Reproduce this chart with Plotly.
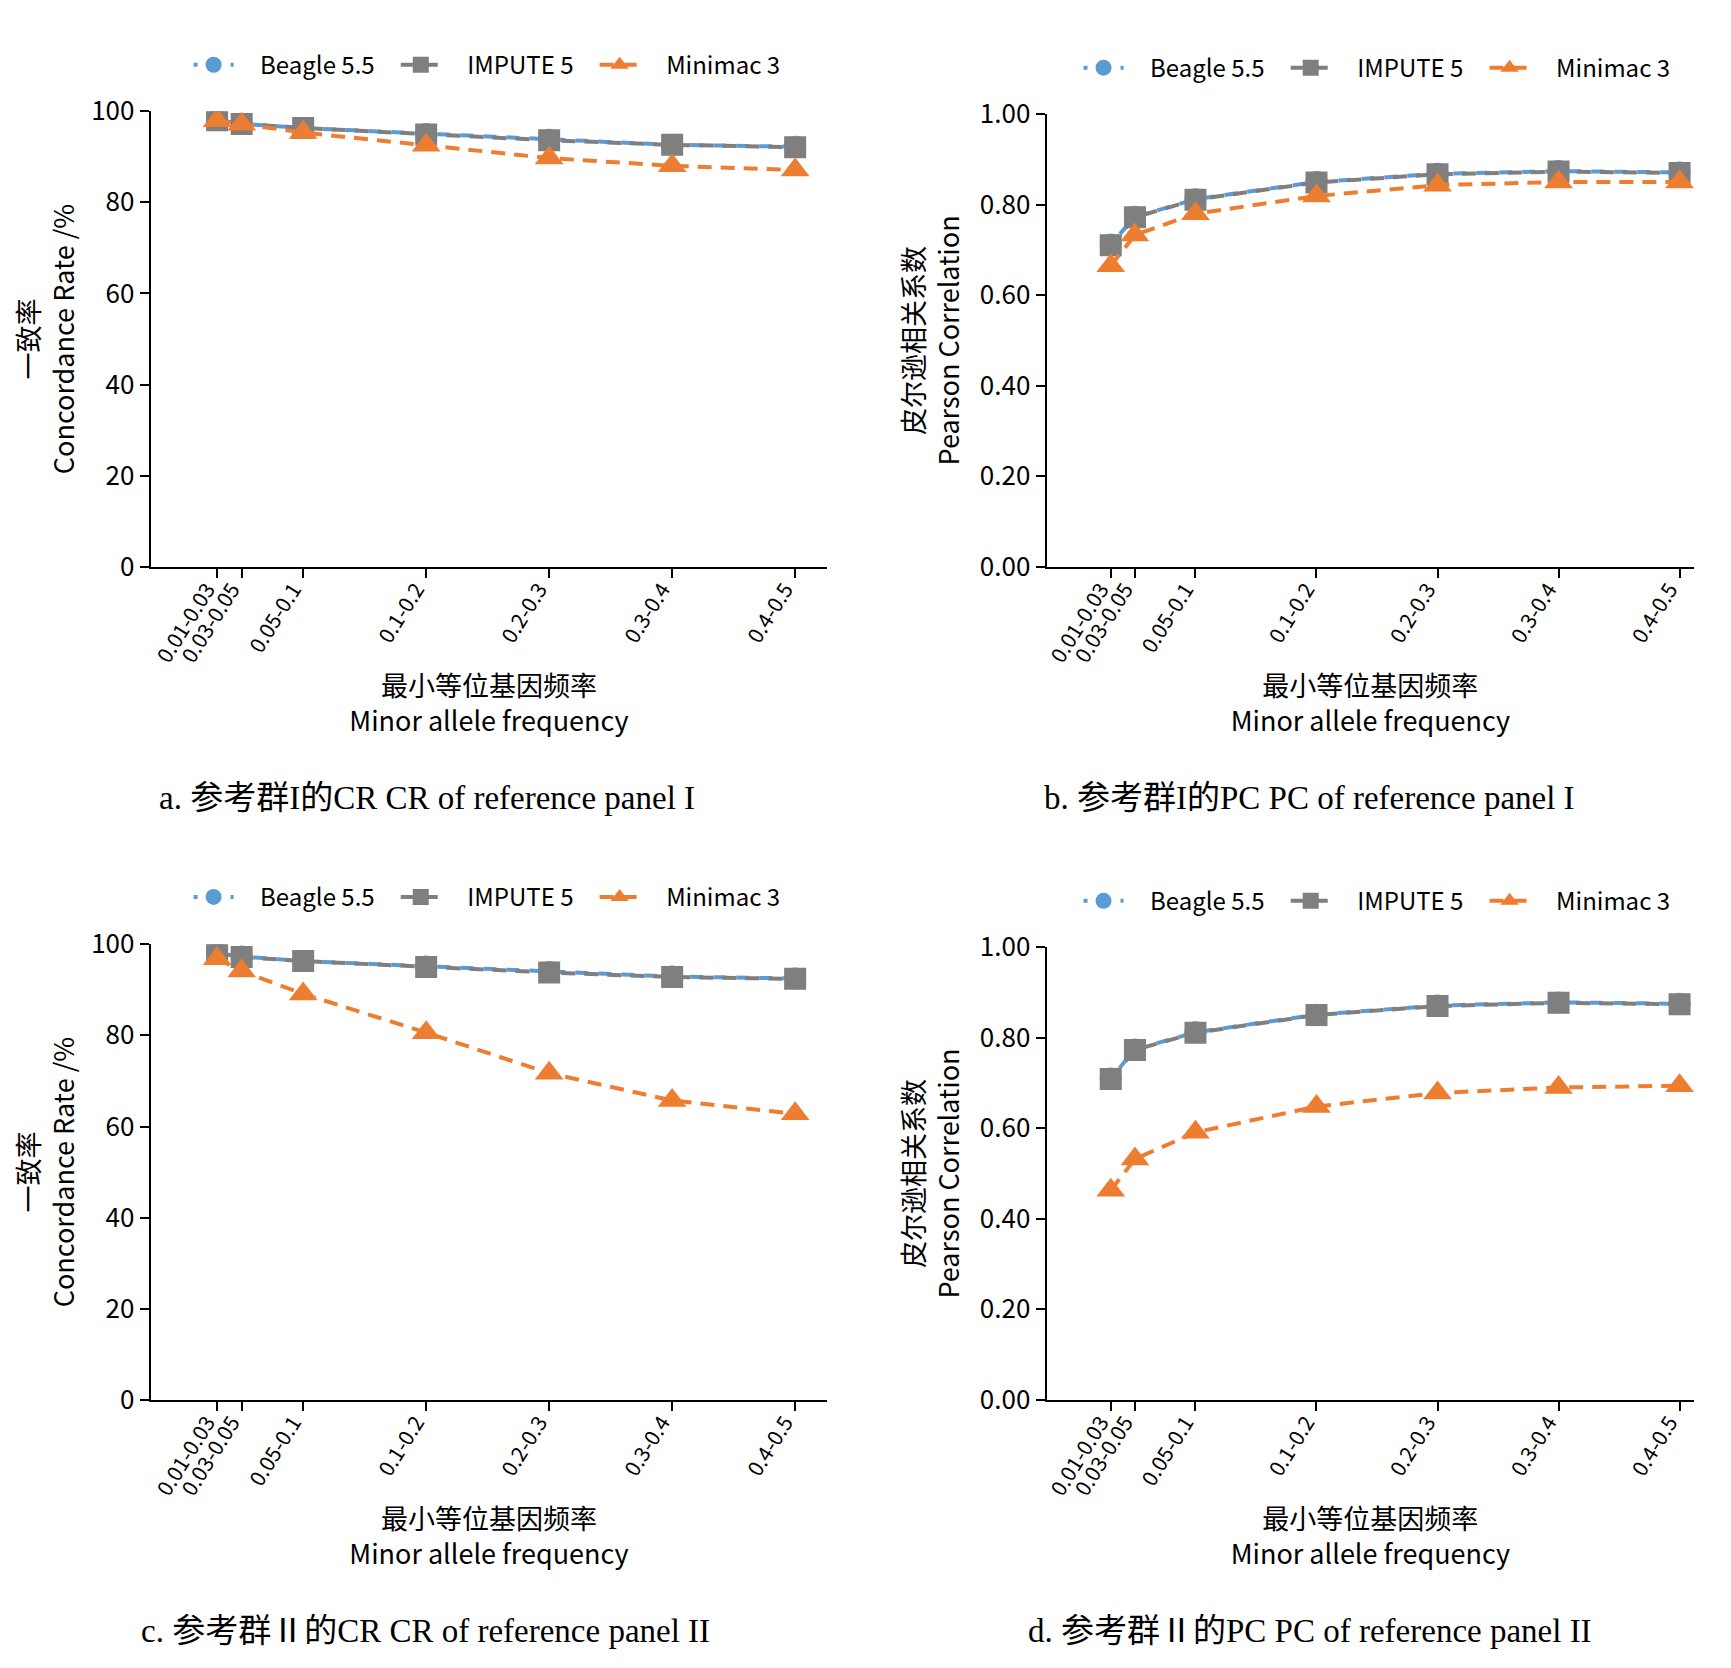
import plotly.graph_objects as go

# MAF bins (plotted at upper bound of each bin)
maf_pos = [0.03, 0.05, 0.1, 0.2, 0.3, 0.4, 0.5]
maf_labels = ["0.01-0.03", "0.03-0.05", "0.05-0.1", "0.1-0.2", "0.2-0.3", "0.3-0.4", "0.4-0.5"]

tools = ["Beagle 5.5", "IMPUTE 5", "Minimac 3"]

# a. concordance rate, reference panel I
cr_p1_beagle = [98.1, 97.2, 96.3, 95.0, 93.7, 92.6, 92.2]
cr_p1_impute = [98.0, 97.2, 96.3, 94.9, 93.6, 92.6, 92.1]
cr_p1_minimac = [97.9, 97.1, 95.3, 92.5, 89.7, 88.0, 87.1]

# b. pearson correlation, reference panel I
pc_p1_beagle = [0.712, 0.773, 0.812, 0.850, 0.868, 0.874, 0.871]
pc_p1_impute = [0.710, 0.772, 0.811, 0.849, 0.867, 0.873, 0.870]
pc_p1_minimac = [0.665, 0.733, 0.780, 0.819, 0.843, 0.850, 0.850]

# c. concordance rate, reference panel II
cr_p2_beagle = [98.2, 97.3, 96.3, 95.1, 93.9, 92.9, 92.5]
cr_p2_impute = [98.1, 97.2, 96.3, 95.0, 93.8, 92.8, 92.4]
cr_p2_minimac = [96.8, 94.1, 89.1, 80.6, 71.7, 65.7, 62.8]

# d. pearson correlation, reference panel II
pc_p2_beagle = [0.710, 0.774, 0.812, 0.851, 0.871, 0.878, 0.875]
pc_p2_impute = [0.709, 0.773, 0.811, 0.850, 0.870, 0.877, 0.874]
pc_p2_minimac = [0.463, 0.532, 0.591, 0.648, 0.678, 0.690, 0.694]

captions = [
    "a. 参考群I的CR CR of reference panel I",
    "b. 参考群I的PC PC of reference panel I",
    "c. 参考群Ⅱ的CR CR of reference panel II",
    "d. 参考群Ⅱ的PC PC of reference panel II",
]

colors = ["#5B9BD5", "#7F7F7F", "#ED7D31"]
symbols = ["circle", "square", "triangle-up"]
msizes = [22, 22, 25]
# beagle dashes mostly fall in the gaps of the impute dashes, like the original
dashes = ["4px,10px,9px,0px", "14px,9px", "14px,9px"]

FONT = "Noto Sans CJK SC"
W, H = 1731, 1668
NB = "\u00a0"

panels = [
    dict(series=[cr_p1_beagle, cr_p1_impute, cr_p1_minimac], kind="cr", xr=[-0.024, 0.526],
         xdom=[139 / W, 817 / W], ydom=[1 - 550 / H, 1 - 84 / H], legend_xy=(177 / W, 1 - 37 / H)),
    dict(series=[pc_p1_beagle, pc_p1_impute, pc_p1_minimac], kind="pc", xr=[-0.023, 0.512],
         xdom=[1037 / W, 1686 / W], ydom=[1 - 550 / H, 1 - 87 / H], legend_xy=(1069 / W, 1 - 40 / H)),
    dict(series=[cr_p2_beagle, cr_p2_impute, cr_p2_minimac], kind="cr", xr=[-0.024, 0.526],
         xdom=[139 / W, 817 / W], ydom=[1 - 1402 / H, 1 - 936 / H], legend_xy=(177 / W, 1 - 888 / H)),
    dict(series=[pc_p2_beagle, pc_p2_impute, pc_p2_minimac], kind="pc", xr=[-0.023, 0.512],
         xdom=[1037 / W, 1686 / W], ydom=[1 - 1402 / H, 1 - 939 / H], legend_xy=(1069 / W, 1 - 892 / H)),
]

fig = go.Figure()
layout = {}

for i, p in enumerate(panels):
    n = "" if i == 0 else str(i + 1)
    leg = "legend" + n
    for t, name in enumerate(tools):
        fig.add_trace(go.Scatter(
            x=maf_pos, y=p["series"][t], name=NB * 4 + name + NB * 3, mode="lines+markers",
            line=dict(color=colors[t], width=4, dash=dashes[t]),
            marker=dict(symbol=symbols[t], size=msizes[t], color=colors[t]),
            xaxis="x" + n, yaxis="y" + n, legend=leg,
        ))

    layout["xaxis" + n] = dict(
        domain=p["xdom"], anchor="y" + n, range=p["xr"],
        tickmode="array", tickvals=maf_pos, ticktext=maf_labels, tickangle=-58,
        ticklabelshift=-10, ticklabelstandoff=-9,
        ticks="outside", ticklen=9, tickwidth=2, tickcolor="black",
        showline=True, linecolor="black", linewidth=2, showgrid=False, zeroline=False,
        tickfont=dict(family=FONT, size=21, color="black"),
        title=dict(text="最小等位基因频率<br>Minor allele frequency", standoff=10,
                   font=dict(family=FONT, size=27, color="black")),
    )
    if p["kind"] == "cr":
        ytitle = "一致率<br>Concordance Rate /%"
        yr, dt, fmt = [0, 100], 20, ""
    else:
        ytitle = "皮尔逊相关系数<br>Pearson Correlation"
        yr, dt, fmt = [0, 1], 0.2, ".2f"
    layout["yaxis" + n] = dict(
        domain=p["ydom"], anchor="x" + n, range=yr, dtick=dt, tickformat=fmt,
        ticks="outside", ticklen=9, tickwidth=2, tickcolor="black",
        showline=True, linecolor="black", linewidth=2, showgrid=False, zeroline=False,
        tickfont=dict(family=FONT, size=26, color="black"),
        title=dict(text=ytitle, standoff=12, font=dict(family=FONT, size=27, color="black")),
    )
    layout[leg] = dict(
        orientation="h", x=p["legend_xy"][0], y=p["legend_xy"][1],
        xanchor="left", yanchor="middle", bgcolor="rgba(0,0,0,0)",
        font=dict(family=FONT, size=24, color="black"), itemwidth=40,
    )

cap_xy = [(416 / W, 1 - 786 / H), (1301 / W, 1 - 786 / H),
          (414 / W, 1 - 1638 / H), (1301 / W, 1 - 1638 / H)]
annotations = []
for cap, (cx, cy) in zip(captions, cap_xy):
    annotations.append(dict(
        text=cap, x=cx, y=cy, xref="paper", yref="paper",
        xanchor="center", yanchor="middle", showarrow=False,
        font=dict(family="Liberation Serif, Noto Sans CJK SC", size=33, color="black"),
    ))

fig.update_layout(
    width=W, height=H,
    margin=dict(l=0, r=0, t=0, b=0),
    plot_bgcolor="white", paper_bgcolor="white",
    annotations=annotations,
    **layout,
)

fig.write_html("out.html")
